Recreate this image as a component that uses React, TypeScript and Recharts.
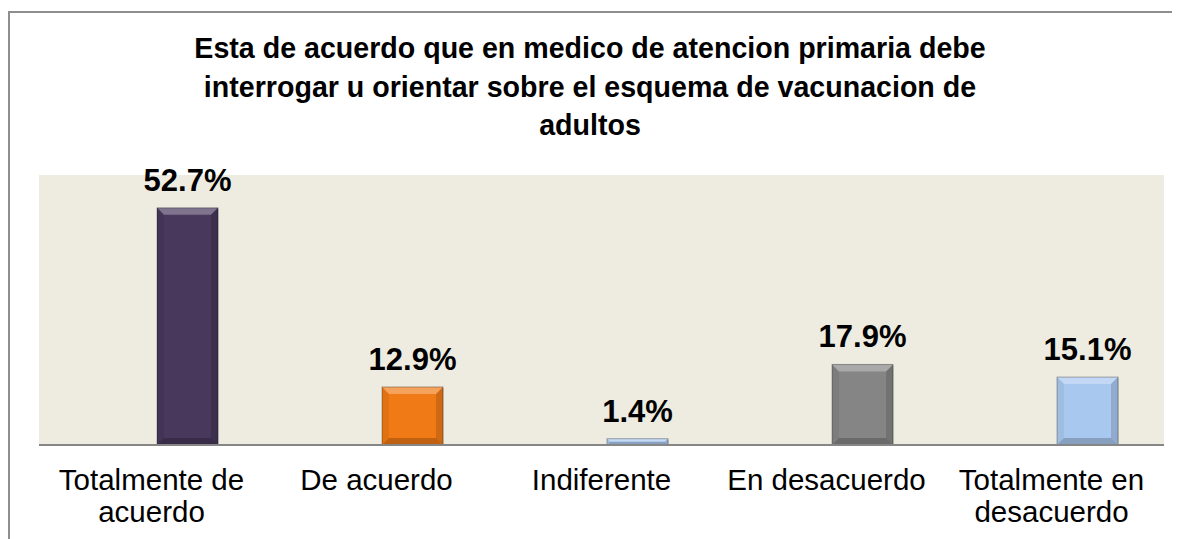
import { BarChart, Bar, XAxis, YAxis, CartesianGrid, LabelList } from 'recharts';

const titleLines = [
  'Esta de acuerdo que en medico de atencion primaria debe',
  'interrogar u orientar sobre el esquema de vacunacion de',
  'adultos',
];
const categories = [
  'Totalmente de\nacuerdo',
  'De acuerdo',
  'Indiferente',
  'En desacuerdo',
  'Totalmente en\ndesacuerdo',
];
const percentages = [52.7, 12.9, 1.4, 17.9, 15.1];
const barColors = ['#47385C', '#F07A16', '#A9C8F0', '#858585', '#A9C8F0'];
const yDomain = [0, 60];

const FONT = '"Liberation Sans", Arial, sans-serif';
// Excel put the bars right of the category centre
const BAR_SHIFT = 36;

const chartData = categories.map((name, i) => ({
  name,
  value: percentages[i],
  color: barColors[i],
}));

function BevelBar(props: any) {
  const { x, y, width: w, height: h, payload } = props;
  if (!h || h <= 0) return null;
  const bx = x + BAR_SHIFT;
  const b = Math.min(7, h / 2, w / 2);
  return (
    <g>
      <rect x={bx + 1} y={y + 1} width={w} height={h} fill="#000" opacity={0.12} />
      <rect x={bx} y={y} width={w} height={h} fill={payload.color} />
      <polygon
        points={`${bx},${y} ${bx + w},${y} ${bx + w - b},${y + b} ${bx + b},${y + b}`}
        fill="#fff"
        opacity={0.3}
      />
      <polygon
        points={`${bx},${y + h} ${bx + w},${y + h} ${bx + w - b},${y + h - b} ${bx + b},${y + h - b}`}
        fill="#000"
        opacity={0.2}
      />
      <polygon
        points={`${bx},${y} ${bx + b},${y + b} ${bx + b},${y + h - b} ${bx},${y + h}`}
        fill="#000"
        opacity={0.06}
      />
      <polygon
        points={`${bx + w},${y} ${bx + w - b},${y + b} ${bx + w - b},${y + h - b} ${bx + w},${y + h}`}
        fill="#000"
        opacity={0.14}
      />
      <rect x={bx} y={y} width={w} height={h} fill="none" stroke="#000" strokeOpacity={0.3} />
    </g>
  );
}

function ValueLabel(props: any) {
  const { x, y, width, value } = props;
  return (
    <text
      x={x + width / 2 + BAR_SHIFT}
      y={y - 17}
      textAnchor="middle"
      fontFamily={FONT}
      fontWeight="bold"
      fontSize={31}
      fill="#000"
    >
      {`${value}%`}
    </text>
  );
}

function CategoryTick(props: any) {
  const { x, y, payload } = props;
  const lines = String(payload.value).split('\n');
  return (
    <text x={x} y={y + 45} textAnchor="middle" fontFamily={FONT} fontSize={29.5} fill="#000">
      {lines.map((line, i) => (
        <tspan key={i} x={x} dy={i === 0 ? 0 : 32}>
          {line}
        </tspan>
      ))}
    </text>
  );
}

export default function App() {
  return (
    <div style={{ position: 'relative', width: 1172, height: 531, overflow: 'hidden', background: '#fff' }}>
      <div
        style={{
          position: 'absolute',
          left: 0,
          top: 3,
          width: 1300,
          height: 700,
          borderTop: '2px solid #8E8E8E',
          borderLeft: '2px solid #8E8E8E',
        }}
      />
      <div
        style={{
          position: 'absolute',
          left: 0,
          top: 21,
          width: 1164,
          textAlign: 'center',
          fontFamily: FONT,
          fontWeight: 'bold',
          fontSize: 28.6,
          lineHeight: '38.5px',
          color: '#000',
        }}
      >
        {titleLines.map((line, i) => (
          <div key={i}>{line}</div>
        ))}
      </div>
      <div style={{ position: 'absolute', left: 0, top: 0 }}>
        <BarChart
          width={1172}
          height={531}
          data={chartData}
          margin={{ top: 167, right: 16, bottom: 0, left: 31 }}
          barSize={61}
        >
          <CartesianGrid horizontal={false} vertical={false} fill="#EEECE1" stroke="none" />
          <XAxis
            dataKey="name"
            height={94}
            tickLine={false}
            tickSize={0}
            tickMargin={0}
            axisLine={{ stroke: '#868686', strokeWidth: 2 }}
            tick={<CategoryTick />}
            interval={0}
          />
          <YAxis hide domain={yDomain} />
          <Bar dataKey="value" isAnimationActive={false} shape={<BevelBar />}>
            <LabelList dataKey="value" content={<ValueLabel />} />
          </Bar>
        </BarChart>
      </div>
    </div>
  );
}
